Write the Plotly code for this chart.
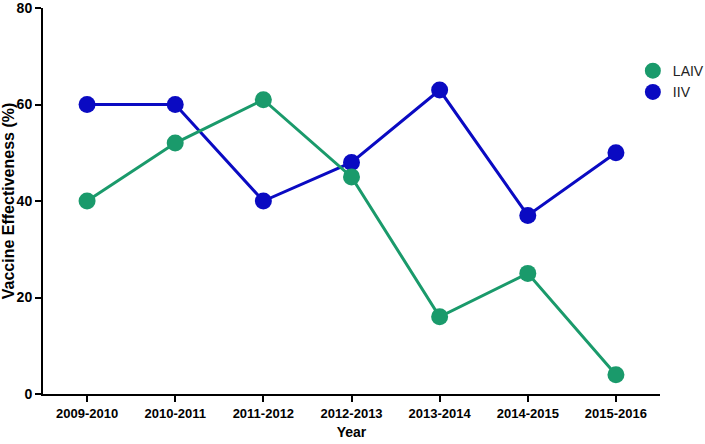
import plotly.graph_objects as go

years = ["2009-2010", "2010-2011", "2011-2012", "2012-2013", "2013-2014", "2014-2015", "2015-2016"]
laiv = [40, 52, 61, 45, 16, 25, 4]
iiv = [60, 60, 40, 48, 63, 37, 50]

green = "#1a9a6b"
blue = "#0a0ac2"

fig = go.Figure()
fig.add_trace(go.Scatter(x=years, y=iiv, mode="lines+markers", name="IIV",
                         line=dict(color=blue, width=3), marker=dict(color=blue, size=17),
                         showlegend=False))
fig.add_trace(go.Scatter(x=years, y=laiv, mode="lines+markers", name="LAIV",
                         line=dict(color=green, width=3), marker=dict(color=green, size=17),
                         showlegend=False))
fig.add_trace(go.Scatter(x=[None], y=[None], mode="markers", name="LAIV",
                         marker=dict(color=green, size=18)))
fig.add_trace(go.Scatter(x=[None], y=[None], mode="markers", name="IIV",
                         marker=dict(color=blue, size=18)))

font_family = "Liberation Sans, Arial, sans-serif"
fig.update_layout(
    width=705, height=444,
    margin=dict(l=43, r=45, t=8, b=50, autoexpand=False),
    plot_bgcolor="white", paper_bgcolor="white",
    font=dict(family=font_family, color="black"),
    showlegend=True,
    legend=dict(x=0.956, y=0.878, xanchor="left", yanchor="top",
                font=dict(size=14, color="#222"), tracegroupgap=0,
                bgcolor="rgba(0,0,0,0)"),
    xaxis=dict(type="category", range=[-0.5, 6.5], showline=True, linecolor="black", linewidth=2,
               ticks="outside", ticklen=6, tickwidth=2, tickcolor="black",
               showgrid=False, zeroline=False, automargin=False,
               tickfont=dict(size=13, weight="bold"),
               title=dict(text="<b>Year</b>", font=dict(size=14), standoff=8)),
    yaxis=dict(range=[0, 80], dtick=20, showline=True, linecolor="black", linewidth=2,
               ticks="outside", ticklen=6, tickwidth=2, tickcolor="black",
               showgrid=False, zeroline=False, automargin=False,
               ticklabeloverflow="allow",
               tickfont=dict(size=14, weight="bold"),
               title=dict(text="<b>Vaccine Effectiveness (%)</b>", font=dict(size=16), standoff=2)),
)

fig.write_html("out.html", config={"displayModeBar": False},
               post_script="document.body.style.margin='0';")
